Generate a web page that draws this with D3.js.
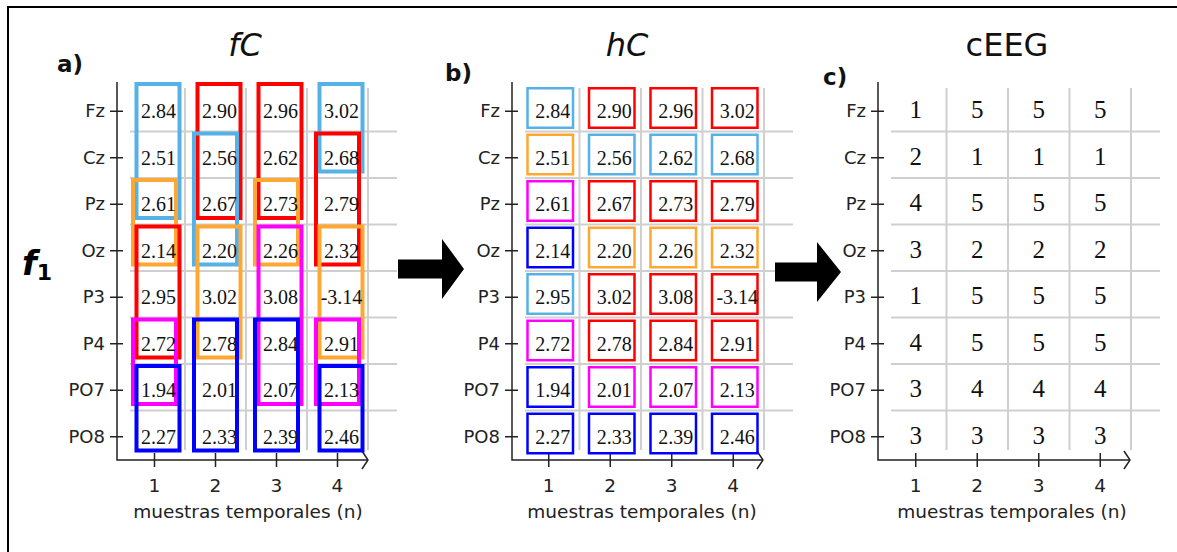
<!DOCTYPE html>
<html>
<head>
<meta charset="utf-8">
<script src="https://cdn.jsdelivr.net/npm/d3@7"></script>
<style>
  body { margin: 0; background: #fff; }
  svg { display: block; }
</style>
</head>
<body>
<svg id="chart" width="1177" height="552"></svg>
<script>
// ---- data -------------------------------------------------------------
const channels = ["Fz", "Cz", "Pz", "Oz", "P3", "P4", "PO7", "PO8"];
const samples = [1, 2, 3, 4];

// instantaneous phase f1 per channel (one array per row, one value per sample)
const phaseFz  = [2.84, 2.90, 2.96, 3.02];
const phaseCz  = [2.51, 2.56, 2.62, 2.68];
const phasePz  = [2.61, 2.67, 2.73, 2.79];
const phaseOz  = [2.14, 2.20, 2.26, 2.32];
const phaseP3  = [2.95, 3.02, 3.08, -3.14];
const phaseP4  = [2.72, 2.78, 2.84, 2.91];
const phasePO7 = [1.94, 2.01, 2.07, 2.13];
const phasePO8 = [2.27, 2.33, 2.39, 2.46];
const phaseRows = [phaseFz, phaseCz, phasePz, phaseOz, phaseP3, phaseP4, phasePO7, phasePO8];

// cluster code assigned to every channel at every sample (cEEG)
const ceegFz  = [1, 5, 5, 5];
const ceegCz  = [2, 1, 1, 1];
const ceegPz  = [4, 5, 5, 5];
const ceegOz  = [3, 2, 2, 2];
const ceegP3  = [1, 5, 5, 5];
const ceegP4  = [4, 5, 5, 5];
const ceegPO7 = [3, 4, 4, 4];
const ceegPO8 = [3, 3, 3, 3];
const ceegRows = [ceegFz, ceegCz, ceegPz, ceegOz, ceegP3, ceegP4, ceegPO7, ceegPO8];

// fC groupings per sample: [first channel, last channel, cluster code]
const fcSample1 = [["Fz", "Pz", 1], ["Pz", "Oz", 2], ["Oz", "P4", 5], ["P4", "PO7", 4], ["PO7", "PO8", 3]];
const fcSample2 = [["Fz", "Pz", 5], ["Cz", "Oz", 1], ["Oz", "P4", 2], ["P4", "PO8", 3]];
const fcSample3 = [["Fz", "Pz", 5], ["Pz", "Oz", 2], ["Oz", "PO7", 4], ["P4", "PO8", 3]];
const fcSample4 = [["Fz", "Cz", 1], ["Cz", "Oz", 5], ["Oz", "P4", 2], ["P4", "PO7", 4], ["PO7", "PO8", 3]];
const fcGroups = [fcSample1, fcSample2, fcSample3, fcSample4];

const clusterCodes = [1, 2, 3, 4, 5];
const clusterColors = ["#56b1e6", "#ffa733", "#0000ff", "#ff00ff", "#ff0000"];

// ---- drawing ----------------------------------------------------------
const svg = d3.select("#chart");
const color = d3.scaleOrdinal().domain(clusterCodes).range(clusterColors);
const SANS = "Verdana, 'DejaVu Sans', sans-serif";
const SERIF = "'Liberation Serif', 'DejaVu Serif', serif";
const INK = "#222";

// frame
svg.append("path")
  .attr("d", "M8,560 V7 H1185")
  .attr("fill", "none").attr("stroke", "#000").attr("stroke-width", 2);

const panels = [
  { key: "a", title: "fC", italic: true, titleX: 245, label: "a)", labelX: 57, labelY: 72,
    axisX: 117, xRange: [124, 368], axisEnd: 368, xTitleX: 248 },
  { key: "b", title: "hC", italic: true, titleX: 627, label: "b)", labelX: 445, labelY: 81,
    axisX: 512, xRange: [518, 764], axisEnd: 763, xTitleX: 642 },
  { key: "c", title: "cEEG", italic: false, titleX: 1007, label: "c)", labelX: 823, labelY: 85,
    axisX: 878, xRange: [885, 1131], axisEnd: 1130, xTitleX: 1012 }
];

panels.forEach(cfg => {
  const g = svg.append("g").attr("class", "panel-" + cfg.key);
  const x = d3.scaleBand().domain(samples).range(cfg.xRange);
  const y = d3.scaleBand().domain(channels).range([85, 457]);
  const bw = x.bandwidth(), bh = y.bandwidth();

  // grid
  const grid = g.append("g").attr("stroke", "#cfcfcf").attr("stroke-width", 2);
  grid.selectAll("line.h").data(channels.slice(1)).join("line")
    .attr("class", "h")
    .attr("x1", cfg.axisX + 13).attr("x2", cfg.xRange[1] + 29)
    .attr("y1", d => y(d)).attr("y2", d => y(d));
  grid.selectAll("line.v").data(samples).join("line")
    .attr("class", "v")
    .attr("x1", d => x(d) + bw).attr("x2", d => x(d) + bw)
    .attr("y1", 88).attr("y2", 450);

  // axes lines with arrowhead on the time axis
  g.append("path")
    .attr("d", `M${cfg.axisX},82 V460 H${cfg.axisEnd}`)
    .attr("fill", "none").attr("stroke", INK).attr("stroke-width", 1.5);
  g.append("path")
    .attr("d", `M${cfg.axisEnd - 6},451 L${cfg.axisEnd},460 L${cfg.axisEnd - 6},469`)
    .attr("fill", "none").attr("stroke", INK).attr("stroke-width", 1.5);

  // channel axis
  g.append("g")
    .attr("transform", `translate(${cfg.axisX},3)`)
    .call(d3.axisLeft(y).tickSizeInner(7).tickSizeOuter(0).tickPadding(5))
    .call(a => a.select(".domain").remove())
    .call(a => a.selectAll(".tick line").attr("x1", 6).attr("stroke", INK).attr("stroke-width", 1.5))
    .call(a => a.selectAll(".tick text")
      .attr("font-size", 18).attr("font-family", SANS).attr("fill", INK));

  // sample axis
  g.append("g")
    .attr("transform", "translate(0,460)")
    .call(d3.axisBottom(x).tickSizeInner(7).tickSizeOuter(0).tickPadding(12))
    .call(a => a.select(".domain").remove())
    .call(a => a.selectAll(".tick line").attr("y1", -7).attr("stroke", INK).attr("stroke-width", 1.5))
    .call(a => a.selectAll(".tick text")
      .attr("font-size", 18.5).attr("font-family", SANS).attr("fill", INK));

  g.append("text")
    .attr("x", cfg.xTitleX).attr("y", 518)
    .attr("text-anchor", "middle")
    .attr("font-family", SANS).attr("font-size", 18.5).attr("fill", INK)
    .text("muestras temporales (n)");

  // panel title and tag
  g.append("text")
    .attr("x", cfg.titleX).attr("y", 56)
    .attr("text-anchor", "middle")
    .attr("font-family", SANS).attr("font-size", 32)
    .attr("font-style", cfg.italic ? "italic" : "normal")
    .attr("fill", "#111")
    .text(cfg.title);
  g.append("text")
    .attr("x", cfg.labelX).attr("y", cfg.labelY)
    .attr("font-family", SANS).attr("font-size", 23).attr("font-weight", "bold")
    .attr("fill", "#111")
    .text(cfg.label);

  const cells = [];
  channels.forEach((ch, i) => samples.forEach((s, j) => {
    cells.push({ ch, s, phase: phaseRows[i][j], code: ceegRows[i][j] });
  }));

  if (cfg.key === "a") {
    // overlapping groupings found at each sample
    fcGroups.forEach((groups, j) => {
      const s = samples[j];
      g.append("g").selectAll("rect").data(groups).join("rect")
        .attr("x", (d, k) => x(s) + bw / 2 + (k % 2 === 0 ? 3.5 : 0) - 21.5)
        .attr("width", 43)
        .attr("y", d => y(d[0]) + (d[0] === channels[0] ? -3 : 0) + 2)
        .attr("height", d => y(d[1]) + 42 - (y(d[0]) + (d[0] === channels[0] ? -3 : 0)) - 4)
        .attr("fill", "none")
        .attr("stroke", d => color(d[2]))
        .attr("stroke-width", 4);
    });
  }
  if (cfg.key === "b") {
    // one box per cell, coloured by its cluster
    g.append("g").selectAll("rect").data(cells).join("rect")
      .attr("x", d => x(d.s) + bw / 2 + 1.5 - 22.75)
      .attr("width", 45.5)
      .attr("y", d => y(d.ch) + 3.25)
      .attr("height", bh - 7)
      .attr("fill", "none")
      .attr("stroke", d => color(d.code))
      .attr("stroke-width", 2.5);
  }
  if (cfg.key === "a" || cfg.key === "b") {
    g.append("g").selectAll("text").data(cells).join("text")
      .attr("x", d => x(d.s) + bw / 2 + 4)
      .attr("y", d => y(d.ch) + bh / 2 + 10)
      .attr("text-anchor", "middle")
      .attr("font-family", SERIF).attr("font-size", 20).attr("fill", "#111")
      .text(d => d.phase.toFixed(2));
  } else {
    g.append("g").selectAll("text").data(cells).join("text")
      .attr("x", d => x(d.s) + bw / 2)
      .attr("y", d => y(d.ch) + bh / 2 + 10)
      .attr("text-anchor", "middle")
      .attr("font-family", SERIF).attr("font-size", 25).attr("fill", "#111")
      .text(d => d.code);
  }
});

// f1 label of the channel axis
const f1 = svg.append("text")
  .attr("x", 22).attr("y", 275)
  .attr("font-family", SANS).attr("font-weight", "bold").attr("font-style", "italic")
  .attr("font-size", 34).attr("fill", "#000");
f1.append("tspan").text("f");
f1.append("tspan").attr("font-size", 22).attr("dy", 5).attr("font-style", "normal").text("1");

// block arrows between panels
const arrow = (x0, x1, x2, yc, shaftHalf, headHalf) =>
  `M${x0},${yc - shaftHalf} H${x1} V${yc - headHalf} L${x2},${yc} L${x1},${yc + headHalf} V${yc + shaftHalf} H${x0} Z`;
svg.append("path").attr("d", arrow(398, 442, 464, 269, 9.5, 30)).attr("fill", "#000");
svg.append("path").attr("d", arrow(775, 817, 841, 272, 9.5, 30)).attr("fill", "#000");
</script>
</body>
</html>
